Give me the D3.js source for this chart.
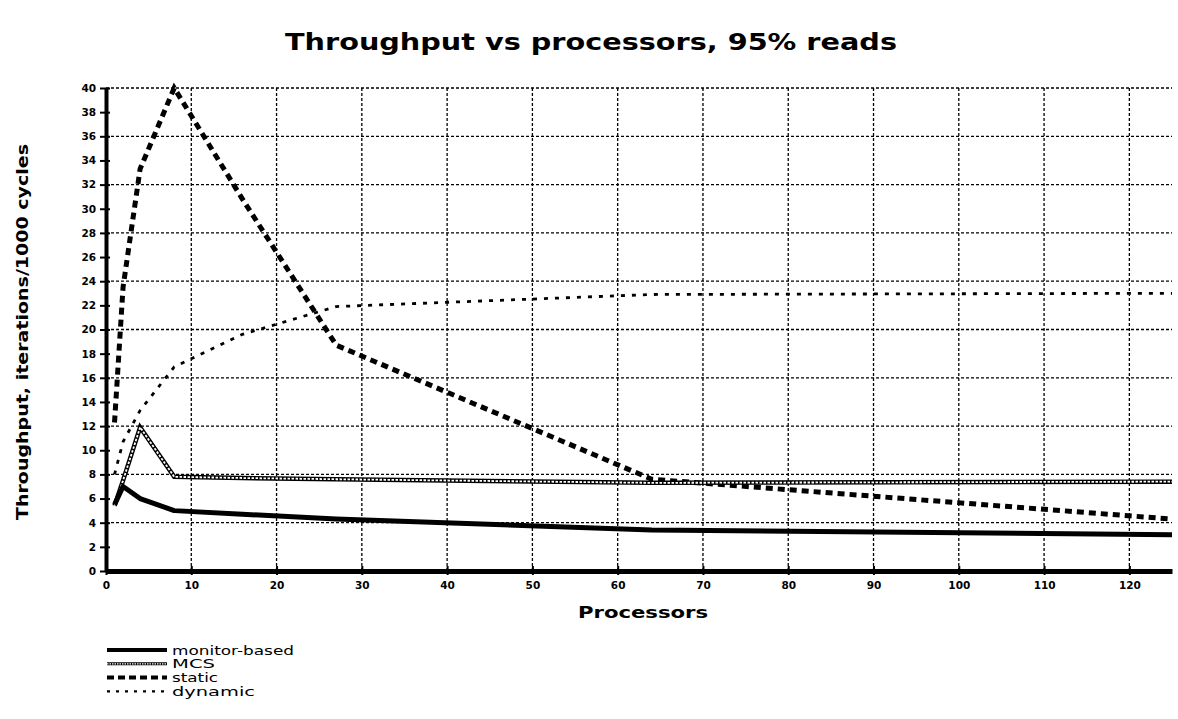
<!DOCTYPE html>
<html lang="en">
<head>
    <meta charset="UTF-8">
    <title>Throughput vs processors, 95% reads</title>
    <style>
        body { margin: 0; background: #fff; }
        text { font-family: "DejaVu Sans", "Liberation Sans", sans-serif; font-weight: bold; fill: #000; }
    </style>
</head>
<body>
    <div id="chart"></div>

    <script src="https://d3js.org/d3.v7.min.js"></script>
    <script>
        // processors at which each series was measured
        var procs = [1, 2, 4, 8, 16, 27, 64, 125];

        var monitorBased = [5.5, 7.0, 6.0, 5.0, 4.7, 4.3, 3.4, 3.0];
        var mcs          = [5.4, 7.5, 11.9, 7.8, 7.7, 7.6, 7.3, 7.4];
        var staticVals   = [12.3, 23.5, 33.3, 40.0, 30.8, 18.7, 7.6, 4.3];
        var dynamicVals  = [8.0, 10.7, 13.3, 16.9, 19.6, 21.9, 22.9, 23.0];

        var seriesNames = ["monitor-based", "MCS", "static", "dynamic"];

        var xTicks = [0, 10, 20, 30, 40, 50, 60, 70, 80, 90, 100, 110, 120];
        var yTicks = d3.range(0, 41, 2);
        var yGrid = [4, 8, 12, 16, 20, 24, 28, 32, 36, 40];

        var margin = { top: 88, right: 6, bottom: 148, left: 106 };
        var width = 1178 - margin.left - margin.right;
        var height = 719 - margin.top - margin.bottom;

        var svg = d3.select("#chart")
            .append("svg")
                .attr("width", 1178)
                .attr("height", 719);

        svg.append("rect")
            .attr("width", 1178)
            .attr("height", 719)
            .attr("fill", "#fff");

        var chart = svg.append("g")
            .attr("transform", "translate(" + margin.left + "," + margin.top + ")");

        var xScale = d3.scaleLinear()
            .domain([0, 125])
            .range([0, width]);

        var yScale = d3.scaleLinear()
            .domain([0, 40])
            .range([height, 0]);

        // grid
        chart.selectAll(".hgrid")
            .data(yGrid)
            .enter()
            .append("line")
                .attr("x1", 0)
                .attr("x2", width)
                .attr("y1", function(d){ return yScale(d); })
                .attr("y2", function(d){ return yScale(d); })
                .style("stroke", "#000")
                .style("stroke-width", 1.3)
                .style("stroke-dasharray", "3,2");

        chart.selectAll(".vgrid")
            .data(xTicks.slice(1))
            .enter()
            .append("line")
                .attr("x1", function(d){ return xScale(d); })
                .attr("x2", function(d){ return xScale(d); })
                .attr("y1", yScale(40))
                .attr("y2", height)
                .style("stroke", "#000")
                .style("stroke-width", 1.3)
                .style("stroke-dasharray", "3,2");

        function pts(vals) {
            return vals.map(function(v, i){ return [procs[i], v]; });
        }

        var line = d3.line()
            .x(function(d){ return xScale(d[0]); })
            .y(function(d){ return yScale(d[1]); });

        // dynamic: small marks along the line
        chart.append("path")
            .attr("d", line(pts(dynamicVals)))
            .style("fill", "none")
            .style("stroke", "#000")
            .style("stroke-width", 2.8)
            .style("stroke-dasharray", "4,7");

        // static: heavy dashes
        chart.append("path")
            .attr("d", line(pts(staticVals)))
            .style("fill", "none")
            .style("stroke", "#000")
            .style("stroke-width", 5)
            .style("stroke-dasharray", "7,5");

        // MCS: hollow chain look
        chart.append("path")
            .attr("d", line(pts(mcs)))
            .style("fill", "none")
            .style("stroke", "#000")
            .style("stroke-width", 4.5);
        chart.append("path")
            .attr("d", line(pts(mcs)))
            .style("fill", "none")
            .style("stroke", "#fff")
            .style("stroke-width", 1.8)
            .style("stroke-dasharray", "2.5,1.5");

        // monitor-based: thick solid
        chart.append("path")
            .attr("d", line(pts(monitorBased)))
            .style("fill", "none")
            .style("stroke", "#000")
            .style("stroke-width", 5)
            .style("stroke-linejoin", "round");

        // axes
        var yAxis = d3.axisLeft(yScale)
            .tickValues(yTicks)
            .tickSizeInner(6)
            .tickSizeOuter(0)
            .tickPadding(4);

        var yGuide = chart.append("g").call(yAxis);
        yGuide.select(".domain").style("stroke", "#000").style("stroke-width", 4);
        yGuide.selectAll("line")
            .attr("x1", 4)
            .style("stroke", "#000")
            .style("stroke-width", 2);
        yGuide.selectAll("text")
            .style("font-size", "10.5px")
            .style("font-family", "DejaVu Sans")
            .style("font-weight", "bold");

        var xAxis = d3.axisBottom(xScale)
            .tickValues(xTicks)
            .tickSizeInner(4)
            .tickSizeOuter(0)
            .tickPadding(7);

        var xGuide = chart.append("g")
            .attr("transform", "translate(0," + height + ")")
            .call(xAxis);
        xGuide.select(".domain").style("stroke", "#000").style("stroke-width", 5);
        xGuide.selectAll("line")
            .attr("y1", -5)
            .style("stroke", "#000")
            .style("stroke-width", 2);
        xGuide.selectAll("text")
            .style("font-size", "10.5px")
            .style("font-family", "DejaVu Sans")
            .style("font-weight", "bold");

        // titles
        svg.append("text")
            .attr("x", 591)
            .attr("y", 50)
            .attr("text-anchor", "middle")
            .attr("textLength", 612)
            .attr("lengthAdjust", "spacingAndGlyphs")
            .style("font-size", "23px")
            .text("Throughput vs processors, 95% reads");

        svg.append("text")
            .attr("x", 643)
            .attr("y", 618)
            .attr("text-anchor", "middle")
            .attr("textLength", 130)
            .attr("lengthAdjust", "spacingAndGlyphs")
            .style("font-size", "16px")
            .text("Processors");

        svg.append("text")
            .attr("transform", "translate(28,332) rotate(-90)")
            .attr("text-anchor", "middle")
            .attr("textLength", 376)
            .attr("lengthAdjust", "spacingAndGlyphs")
            .style("font-size", "16px")
            .text("Throughput, iterations/1000 cycles");

        // legend
        var legend = svg.append("g").attr("transform", "translate(107,650)");
        var legendStyles = [
            { w: 4, dash: null, len: 122 },
            { w: 3, dash: null, inner: true, len: 43 },
            { w: 4, dash: "7,4", len: 46 },
            { w: 2.4, dash: "3,6", len: 83 }
        ];

        var rows = legend.selectAll("g")
            .data(seriesNames)
            .enter()
            .append("g")
                .attr("transform", function(d, i){ return "translate(0," + (i * 13.8) + ")"; });

        rows.append("line")
            .attr("x1", 0)
            .attr("x2", 60)
            .style("stroke", "#000")
            .style("stroke-width", function(d, i){ return legendStyles[i].w; })
            .style("stroke-dasharray", function(d, i){ return legendStyles[i].dash; });

        rows.filter(function(d, i){ return legendStyles[i].inner; })
            .append("line")
                .attr("x1", 0)
                .attr("x2", 60)
                .style("stroke", "#fff")
                .style("stroke-width", 1.2)
                .style("stroke-dasharray", "1.5,1");

        rows.append("text")
            .attr("x", 65)
            .attr("y", 4.5)
            .attr("textLength", function(d, i){ return legendStyles[i].len; })
            .attr("lengthAdjust", "spacingAndGlyphs")
            .style("font-size", "11.5px")
            .style("font-weight", "normal")
            .text(function(d){ return d; });
    </script>
</body>
</html>
